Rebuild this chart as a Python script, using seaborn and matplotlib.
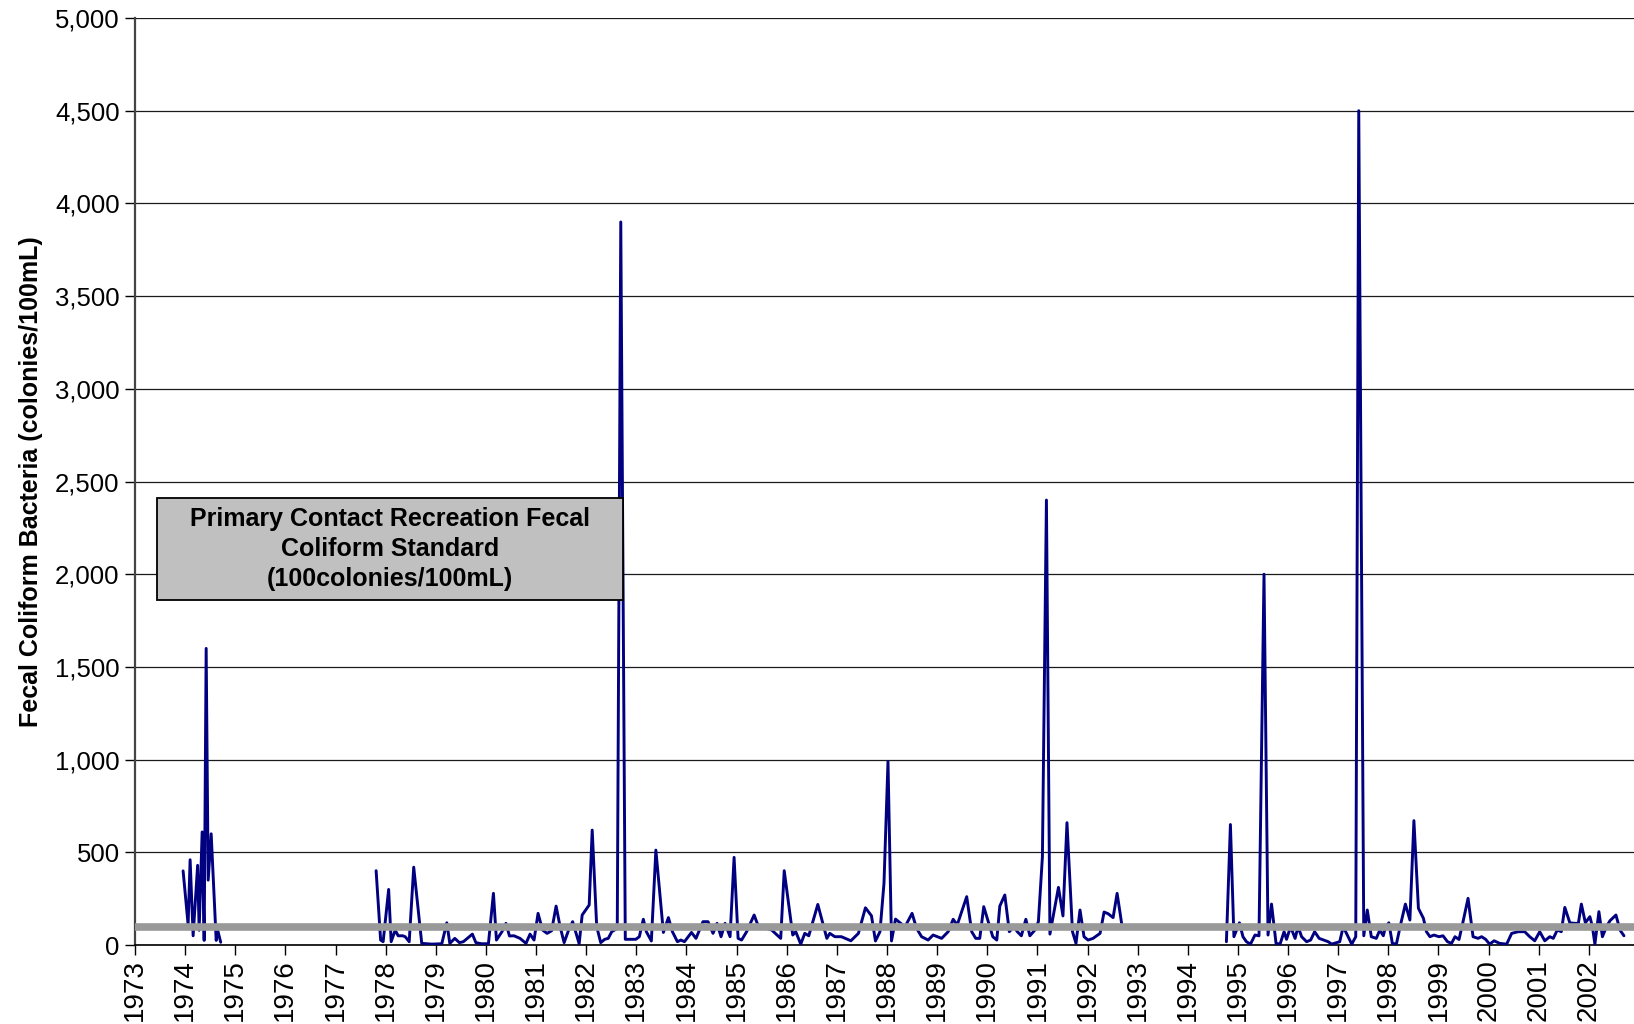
import numpy as np
import pandas as pd
import matplotlib
matplotlib.use("Agg")
import matplotlib.pyplot as plt
from matplotlib.patches import Rectangle
import seaborn as sns

# ---- data (decimal year, colonies/100mL) ----
years_a = [1973.96, 1974.06, 1974.10, 1974.16, 1974.25, 1974.28, 1974.34, 1974.38,
           1974.42, 1974.46, 1974.52, 1974.62, 1974.65, 1974.71]
values_a = [400, 110, 460, 50, 430, 80, 610, 25, 1600, 350, 600, 25, 80, 15]

years_b = [1977.81, 1977.90, 1977.95, 1978.06, 1978.11, 1978.19, 1978.25, 1978.34, 1978.39,
           1978.47, 1978.56, 1978.72, 1978.92, 1979.12, 1979.22, 1979.28, 1979.38, 1979.47,
           1979.55, 1979.73, 1979.80, 1979.91, 1980.05, 1980.15, 1980.21, 1980.32, 1980.40,
           1980.47, 1980.56, 1980.68, 1980.80, 1980.88, 1980.96, 1981.04, 1981.13, 1981.22,
           1981.31, 1981.40, 1981.48, 1981.56, 1981.65, 1981.73, 1981.80, 1981.86, 1981.92,
           1982.06, 1982.12, 1982.21, 1982.29, 1982.37, 1982.44, 1982.51, 1982.62, 1982.69,
           1982.78, 1982.99, 1983.06, 1983.14, 1983.20, 1983.30, 1983.39, 1983.54, 1983.64,
           1983.72, 1983.82, 1983.89, 1983.96, 1984.10, 1984.19, 1984.33, 1984.43, 1984.53,
           1984.61, 1984.69, 1984.77, 1984.87, 1984.95, 1985.03, 1985.10, 1985.20, 1985.35,
           1985.43, 1985.70, 1985.88, 1985.95, 1986.12, 1986.18, 1986.28, 1986.36, 1986.44,
           1986.62, 1986.80, 1986.86, 1986.96, 1987.09, 1987.28, 1987.43, 1987.57, 1987.69,
           1987.77, 1987.86, 1987.94, 1988.02, 1988.09, 1988.17, 1988.26, 1988.36, 1988.50,
           1988.59, 1988.69, 1988.82, 1988.92, 1989.09, 1989.22, 1989.32, 1989.40, 1989.59,
           1989.69, 1989.77, 1989.85, 1989.93, 1990.02, 1990.11, 1990.19, 1990.25, 1990.35,
           1990.44, 1990.53, 1990.60, 1990.68, 1990.77, 1990.85, 1990.95, 1991.02, 1991.10,
           1991.18, 1991.25, 1991.42, 1991.51, 1991.59, 1991.70, 1991.77, 1991.85, 1991.93,
           1992.01, 1992.11, 1992.25, 1992.33, 1992.41, 1992.51, 1992.59, 1992.68]
values_b = [401, 27, 18, 300, 18, 80, 50, 50, 45,
            18, 420, 9, 5, 7, 120, 9, 36, 13,
            18, 59, 13, 7, 7, 279, 27, 72, 117,
            49, 50, 36, 9, 59, 27, 171, 81, 63,
            77, 210, 99, 13, 81, 126, 63, 7, 162,
            216, 620, 99, 13, 31, 36, 72, 90, 3900,
            31, 31, 45, 139, 72, 22, 512, 68, 148,
            72, 18, 27, 18, 68, 36, 126, 126, 63,
            117, 45, 117, 45, 473, 36, 27, 72, 162,
            104, 81, 36, 401, 54, 72, 5, 63, 50,
            219, 36, 63, 45, 45, 23, 63, 201, 158,
            22, 72, 333, 990, 22, 140, 120, 99, 171,
            90, 45, 27, 54, 36, 72, 139, 108, 261,
            72, 36, 36, 207, 126, 45, 27, 210, 270,
            72, 99, 72, 50, 139, 50, 81, 126, 476,
            2400, 59, 311, 157, 660, 72, 9, 189, 45,
            27, 36, 63, 178, 169, 148, 279, 117]

years_c = [1994.77, 1994.85, 1994.92, 1995.03, 1995.10, 1995.17, 1995.25, 1995.34, 1995.42,
           1995.52, 1995.60, 1995.67, 1995.76, 1995.84, 1995.92, 1995.97, 1996.05, 1996.14,
           1996.20, 1996.27, 1996.37, 1996.45, 1996.53, 1996.62, 1996.67, 1996.80, 1996.87,
           1997.03, 1997.10, 1997.27, 1997.35, 1997.41, 1997.51, 1997.58, 1997.66, 1997.76,
           1997.83, 1997.90, 1997.94, 1998.01, 1998.08, 1998.16, 1998.25, 1998.34, 1998.43,
           1998.51, 1998.60, 1998.70, 1998.76, 1998.83, 1998.91, 1999.01, 1999.09, 1999.18,
           1999.26, 1999.33, 1999.41, 1999.49, 1999.59, 1999.69, 1999.79, 1999.86, 1999.94,
           2000.02, 2000.11, 2000.22, 2000.36, 2000.46, 2000.59, 2000.72, 2000.82, 2000.92,
           2001.02, 2001.12, 2001.22, 2001.29, 2001.37, 2001.45, 2001.52, 2001.62, 2001.72,
           2001.79, 2001.85, 2001.93, 2002.02, 2002.07, 2002.12, 2002.20, 2002.27, 2002.35,
           2002.42, 2002.54, 2002.62, 2002.70]
values_c = [18, 650, 45, 120, 45, 18, 5, 54, 50,
            2000, 54, 221, 9, 5, 72, 31, 99, 36,
            99, 45, 18, 27, 72, 36, 31, 18, 5,
            18, 99, 5, 45, 4500, 50, 189, 45, 36,
            81, 50, 95, 120, 9, 5, 117, 221, 135,
            671, 198, 144, 72, 45, 54, 45, 50, 18,
            9, 45, 30, 126, 252, 45, 36, 45, 31,
            5, 23, 9, 5, 63, 72, 72, 45, 23,
            72, 23, 45, 36, 81, 72, 203, 120, 117,
            117, 221, 120, 153, 99, 5, 180, 45, 99,
            131, 162, 81, 50]

standard_value = 100
standard_text = "Primary Contact Recreation Fecal\nColiform Standard\n(100colonies/100mL)"
year_ticks = list(range(1973, 2003))
y_ticks = list(range(0, 5001, 500))
y_label = "Fecal Coliform Bacteria (colonies/100mL)"

df = pd.concat([
    pd.DataFrame({"year": years_a, "value": values_a, "segment": "a"}),
    pd.DataFrame({"year": years_b, "value": values_b, "segment": "b"}),
    pd.DataFrame({"year": years_c, "value": values_c, "segment": "c"}),
], ignore_index=True)

# ---- style ----
sns.set_style("white")
plt.rcParams["font.family"] = ["Liberation Sans", "DejaVu Sans"]
plt.rcParams["text.color"] = "black"
plt.rcParams["axes.labelcolor"] = "black"
plt.rcParams["xtick.color"] = "black"
plt.rcParams["ytick.color"] = "black"

fig = plt.figure(figsize=(16.34, 10.24), dpi=100)
ax = fig.add_axes([0.0826, 0.0771, 0.9174, 0.9053])

sns.lineplot(data=df, x="year", y="value", units="segment", estimator=None,
             color="#000080", linewidth=2.1, ax=ax, zorder=3)

ax.axhline(standard_value, color="#999999", linewidth=5.5, zorder=4)

ax.set_xlim(1973, 2002.9)
ax.set_ylim(0, 5000)
ax.set_xticks(year_ticks)
ax.set_xticklabels([str(y) for y in year_ticks], rotation=90, fontsize=20)
ax.set_yticks(y_ticks)
ax.set_yticklabels([f"{v:,}" for v in y_ticks], fontsize=18.5)
ax.set_xlabel("")
ax.set_ylabel(y_label, fontsize=18, fontweight="bold", labelpad=9)

ax.yaxis.grid(True, color="#1a1a1a", linewidth=0.9, zorder=0)
ax.xaxis.grid(False)
ax.tick_params(axis="both", direction="out", length=7, width=1, color="black",
               labelcolor="black", bottom=True, left=True, pad=4)
ax.tick_params(axis="x", pad=3)
for side in ["top", "right"]:
    ax.spines[side].set_visible(False)
ax.spines["left"].set_color("#444444")
ax.spines["left"].set_linewidth(1.6)
ax.spines["bottom"].set_color("black")
ax.spines["bottom"].set_linewidth(1.2)

ax.add_patch(Rectangle((1973.44, 1861), 1982.73 - 1973.44, 2411 - 1861,
                       facecolor="#C0C0C0", edgecolor="black", linewidth=1.3, zorder=5))
ax.text(1978.09, 2136, standard_text, ha="center", va="center", fontsize=18,
        fontweight="bold", linespacing=1.3, color="black", zorder=6)

fig.savefig("out.png", dpi=100)
